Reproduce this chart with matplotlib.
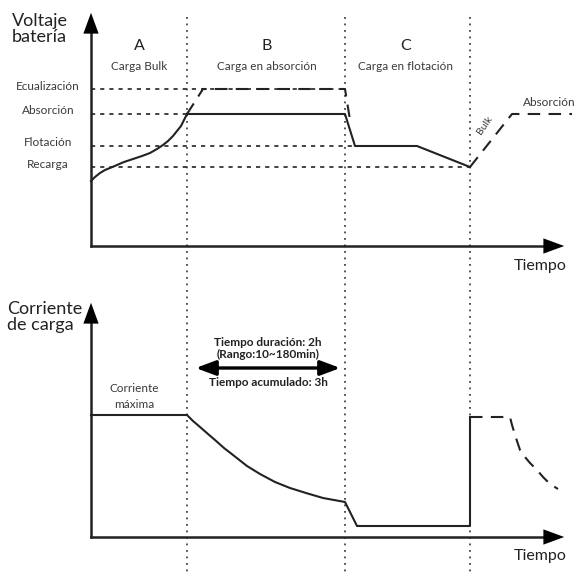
import matplotlib.pyplot as plt
import numpy as np

plt.rcParams['font.family'] = ['Lato', 'DejaVu Sans']

# coordenadas del esquema (px, y hacia abajo)
x0 = 91                      # eje vertical
x_end = 567                  # punta de flecha eje x
t_fases = [187, 345, 470]    # limites A | B | C | siguiente
y_eje_v = 246                # eje x panel voltaje
y_eje_i = 537                # eje x panel corriente

niveles = ['Ecualización', 'Absorción', 'Flotación', 'Recarga']
y_niveles = [89, 114, 146, 167]
x_fin_niveles = [345, 187, 355, 470]

fases = ['A', 'B', 'C']
fases_txt = ['Carga Bulk', 'Carga en absorción', 'Carga en flotación']
x_fases = [139, 267, 406]

# curva bulk (voltaje)
bulk_x = [91, 95, 100, 105, 110, 117, 124, 133, 142, 150, 157, 163, 168, 173, 177, 181, 184, 187]
bulk_y = [181, 177, 173, 170, 168, 165, 162, 159, 156, 153, 149, 145, 141, 136, 131, 126, 120, 114]
# absorcion + flotacion (voltaje)
abs_x = [187, 345, 355, 417, 470]
abs_y = [114, 114, 146, 146, 167]
ecu_x = [187, 203, 345, 350]
ecu_y = [114, 89, 89, 120]
sig_x = [470, 512, 572]
sig_y = [167, 114, 114]

# corriente
ic_x = [91, 187, 193, 200, 208, 215, 224, 233, 247, 260, 275, 290, 306, 323, 345, 357, 470, 470]
ic_y = [415, 415, 421, 427, 434, 440, 448, 455, 466, 474, 482, 488, 493, 498, 502, 526, 526, 417]
ic2_x = [470, 510, 512, 516, 520, 525, 530, 537, 543, 550, 558]
ic2_y = [417, 417, 425, 438, 450, 457, 463, 470, 477, 484, 489]

fig = plt.figure(figsize=(5.8, 5.72), dpi=100)
ax = fig.add_axes([0, 0, 1, 1])
ax.set_xlim(0, 580)
ax.set_ylim(572, 0)
ax.axis('off')

ink = '#222222'
gris = '#3a3a3a'
cabeza = '-|>,head_width=0.55,head_length=1.5'

# lineas verticales de fase
for t in t_fases:
    ax.plot([t, t], [17, 572], color='#444444', lw=1.3, ls=(0, (1, 2.6)))

# ejes con flechas
for y_top, y_bot in [(10, y_eje_v), (300, y_eje_i)]:
    ax.plot([x0, x0], [y_bot, y_top + 14], color=ink, lw=1.8)
    ax.annotate('', xy=(x0, y_top), xytext=(x0, y_top + 20),
                arrowprops=dict(arrowstyle=cabeza, color='black', lw=0))
    ax.plot([x0, x_end - 14], [y_bot, y_bot], color=ink, lw=1.8)
    ax.annotate('', xy=(x_end, y_bot), xytext=(x_end - 20, y_bot),
                arrowprops=dict(arrowstyle=cabeza, color='black', lw=0))

ax.text(12, 13, 'Voltaje\nbatería', fontsize=13, va='top', ha='left',
        color=ink, linespacing=1.0)
ax.text(7, 301, 'Corriente\nde carga', fontsize=13, va='top', ha='left',
        color=ink, linespacing=1.0)
ax.text(540, 266, 'Tiempo', fontsize=11.5, ha='center', va='center', color=ink)
ax.text(540, 556, 'Tiempo', fontsize=11.5, ha='center', va='center', color=ink)

# niveles de voltaje
for nom, y, xf in zip(niveles, y_niveles, x_fin_niveles):
    ax.plot([x0, xf], [y, y], color=ink, lw=1.2, ls=(0, (2.5, 3)))
    ax.text(48, y - 3, nom, fontsize=8.5, ha='center', va='center', color=gris)

for f, txt, xf in zip(fases, fases_txt, x_fases):
    ax.text(xf, 46, f, fontsize=11.5, ha='center', va='center', color=ink)
    ax.text(xf, 66, txt, fontsize=8.5, ha='center', va='center', color=gris)

ax.plot(bulk_x, bulk_y, color=ink, lw=1.5)
ax.plot(abs_x, abs_y, color=ink, lw=1.5)
ax.plot(ecu_x, ecu_y, color=ink, lw=1.5, ls=(0, (6, 4)))
ax.plot(sig_x, sig_y, color=ink, lw=1.5, ls=(0, (6, 4)))
ax.text(523, 102, 'Absorción', fontsize=8.5, ha='left', va='center', color=gris)
ax.text(485, 125, 'Bulk', fontsize=7.5, ha='center', va='center', color=gris,
        rotation=55)

# corriente
ax.plot(ic_x, ic_y, color=ink, lw=1.5)
ax.plot(ic2_x, ic2_y, color=ink, lw=1.5, ls=(0, (6, 4)))
ax.text(134, 389, 'Corriente', fontsize=8.5, ha='center', va='center', color=gris)
ax.text(134, 404, 'máxima', fontsize=8.5, ha='center', va='center', color=gris)

ax.annotate('', xy=(193, 368), xytext=(343, 368),
            arrowprops=dict(arrowstyle='<|-|>,head_width=0.45,head_length=1.2',
                            color='black', lw=2.4))
ax.text(268, 343, 'Tiempo duración: 2h', fontsize=8.5, ha='center', va='center',
        color=ink, fontweight='bold')
ax.text(268, 354, '(Rango:10~180min)', fontsize=8.5, ha='center', va='center',
        color=ink, fontweight='bold')
ax.text(268, 383, 'Tiempo acumulado: 3h', fontsize=8.5, ha='center', va='center',
        color=ink, fontweight='bold')

fig.savefig('out.png', dpi=100)
